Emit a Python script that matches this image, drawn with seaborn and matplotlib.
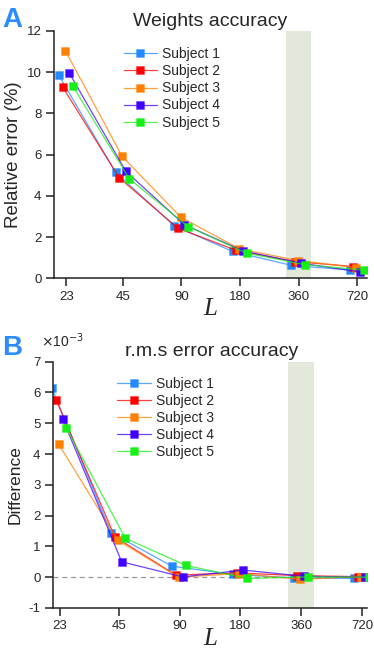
import numpy as np
import pandas as pd
import matplotlib
matplotlib.use("Agg")
import matplotlib.pyplot as plt
from matplotlib.colors import to_rgba
import seaborn as sns

# --- data ---
L_values = [23, 45, 90, 180, 360, 720]
L_labels = ["23", "45", "90", "180", "360", "720"]
subjects = ["Subject 1", "Subject 2", "Subject 3", "Subject 4", "Subject 5"]
colors = ["#2389ff", "#ff0000", "#ff8000", "#4100ff", "#17f017"]

# panel A: relative error of the weights (%)
weights_s1 = [9.84, 5.14, 2.55, 1.30, 0.63, 0.40]
weights_s2 = [9.28, 4.87, 2.43, 1.35, 0.81, 0.57]
weights_s3 = [11.04, 5.92, 2.97, 1.43, 0.86, 0.52]
weights_s4 = [9.97, 5.19, 2.60, 1.33, 0.73, 0.31]
weights_s5 = [9.33, 4.82, 2.51, 1.22, 0.66, 0.40]

# panel B: r.m.s error difference (x 1e-3)
rms_s1 = [6.13, 1.44, 0.36, 0.09, -0.02, -0.04]
rms_s2 = [5.77, 1.31, 0.07, 0.14, 0.05, 0.02]
rms_s3 = [4.31, 1.20, 0.00, 0.12, -0.07, 0.02]
rms_s4 = [5.14, 0.50, 0.01, 0.23, 0.03, 0.00]
rms_s5 = [4.84, 1.26, 0.38, -0.04, 0.01, 0.00]

# small horizontal offset per subject so the markers do not hide each other
jitter = [0.917, 0.958, 0.99, 1.035, 1.08]
shade = (311, 416)


def long_table(series):
    rows = []
    for subj, jit, vals in zip(subjects, jitter, series):
        for L, v in zip(L_values, vals):
            rows.append({"subject": subj, "L": L, "x": L * jit, "value": v})
    return pd.DataFrame(rows)


def draw_panel(ax, df, xlim, ylim, yticks):
    ax.axvspan(shade[0], shade[1], color="#e2e9da", zorder=0, lw=0)
    sns.lineplot(data=df, x="x", y="value", hue="subject", hue_order=subjects,
                 palette=colors, marker="s", markersize=6.2, markeredgewidth=0.5,
                 linewidth=0.9, estimator=None, sort=True, legend=False, ax=ax)
    lines = ax.get_lines()[:5]
    for line, c in zip(lines, colors):
        line.set_color(to_rgba(c, 0.75))
        line.set_markerfacecolor(c)
        line.set_markeredgecolor(to_rgba(c, 0.45))
    ax.set_xscale("log", base=2)
    ax.set_xlim(*xlim)
    ax.set_ylim(*ylim)
    ax.set_xticks(L_values)
    ax.set_xticklabels(L_labels)
    ax.minorticks_off()
    ax.set_yticks(yticks)
    ax.set_yticklabels([str(t) for t in yticks])
    for side in ["top", "right"]:
        ax.spines[side].set_visible(False)
    for side in ["left", "bottom"]:
        ax.spines[side].set_linewidth(1.1)
        ax.spines[side].set_color("#222222")
    ax.tick_params(direction="out", length=5.5, width=1.1, color="#222222",
                   labelsize=9.5, pad=3.5)
    ax.grid(False)
    ax.set_xlabel("L", fontsize=18, family="Liberation Serif", style="italic",
                  labelpad=-3.5)
    return lines


def main():
    sns.set_theme(style="ticks")
    plt.rcParams["font.family"] = ["Liberation Sans", "DejaVu Sans"]

    fig = plt.figure(figsize=(3.74, 6.52), dpi=100)
    leg_kw = dict(loc="upper left", frameon=False, fontsize=10, handlelength=2.4,
                  handletextpad=0.4, labelspacing=0.22, borderpad=0, borderaxespad=0)

    # ---- A: weights accuracy ----
    axA = fig.add_axes([0.1444, 0.5732, 0.837, 0.3793])
    dfA = long_table([weights_s1, weights_s2, weights_s3, weights_s4, weights_s5])
    lines = draw_panel(axA, dfA, (19.9, 810), (0, 12), list(range(0, 13, 2)))
    axA.set_ylabel("Relative error (%)", fontsize=13.5, labelpad=3)
    axA.legend(lines, subjects, bbox_to_anchor=(0.222, 0.934), **leg_kw)

    # ---- B: r.m.s error accuracy ----
    axB = fig.add_axes([0.1417, 0.0675, 0.8388, 0.3778])
    dfB = long_table([rms_s1, rms_s2, rms_s3, rms_s4, rms_s5])
    lines = draw_panel(axB, dfB, (21.3, 759), (-1, 7), list(range(-1, 8)))
    axB.axhline(0, color="#999999", lw=0.9, ls=(0, (4, 3)), zorder=1)
    axB.set_ylabel("Difference", fontsize=12.5, labelpad=4)
    axB.legend(lines, subjects, bbox_to_anchor=(0.205, 0.9395), **leg_kw)

    # titles, panel letters, exponent
    fig.text(0.563, 0.960, "Weights accuracy", ha="center", va="baseline", fontsize=14)
    fig.text(0.567, 0.4545, "r.m.s error accuracy", ha="center", va="baseline", fontsize=14)
    fig.text(0.005, 0.958, "A", color="#2a8cff", fontsize=20, fontweight="bold",
             va="baseline")
    fig.text(0.005, 0.456, "B", color="#2a8cff", fontsize=20, fontweight="bold",
             va="baseline")
    fig.text(0.11, 0.468, r"$\times$10$^{-3}$", fontsize=10, va="baseline")

    fig.savefig("out.png", dpi=100)
    plt.close(fig)


if __name__ == "__main__":
    main()
